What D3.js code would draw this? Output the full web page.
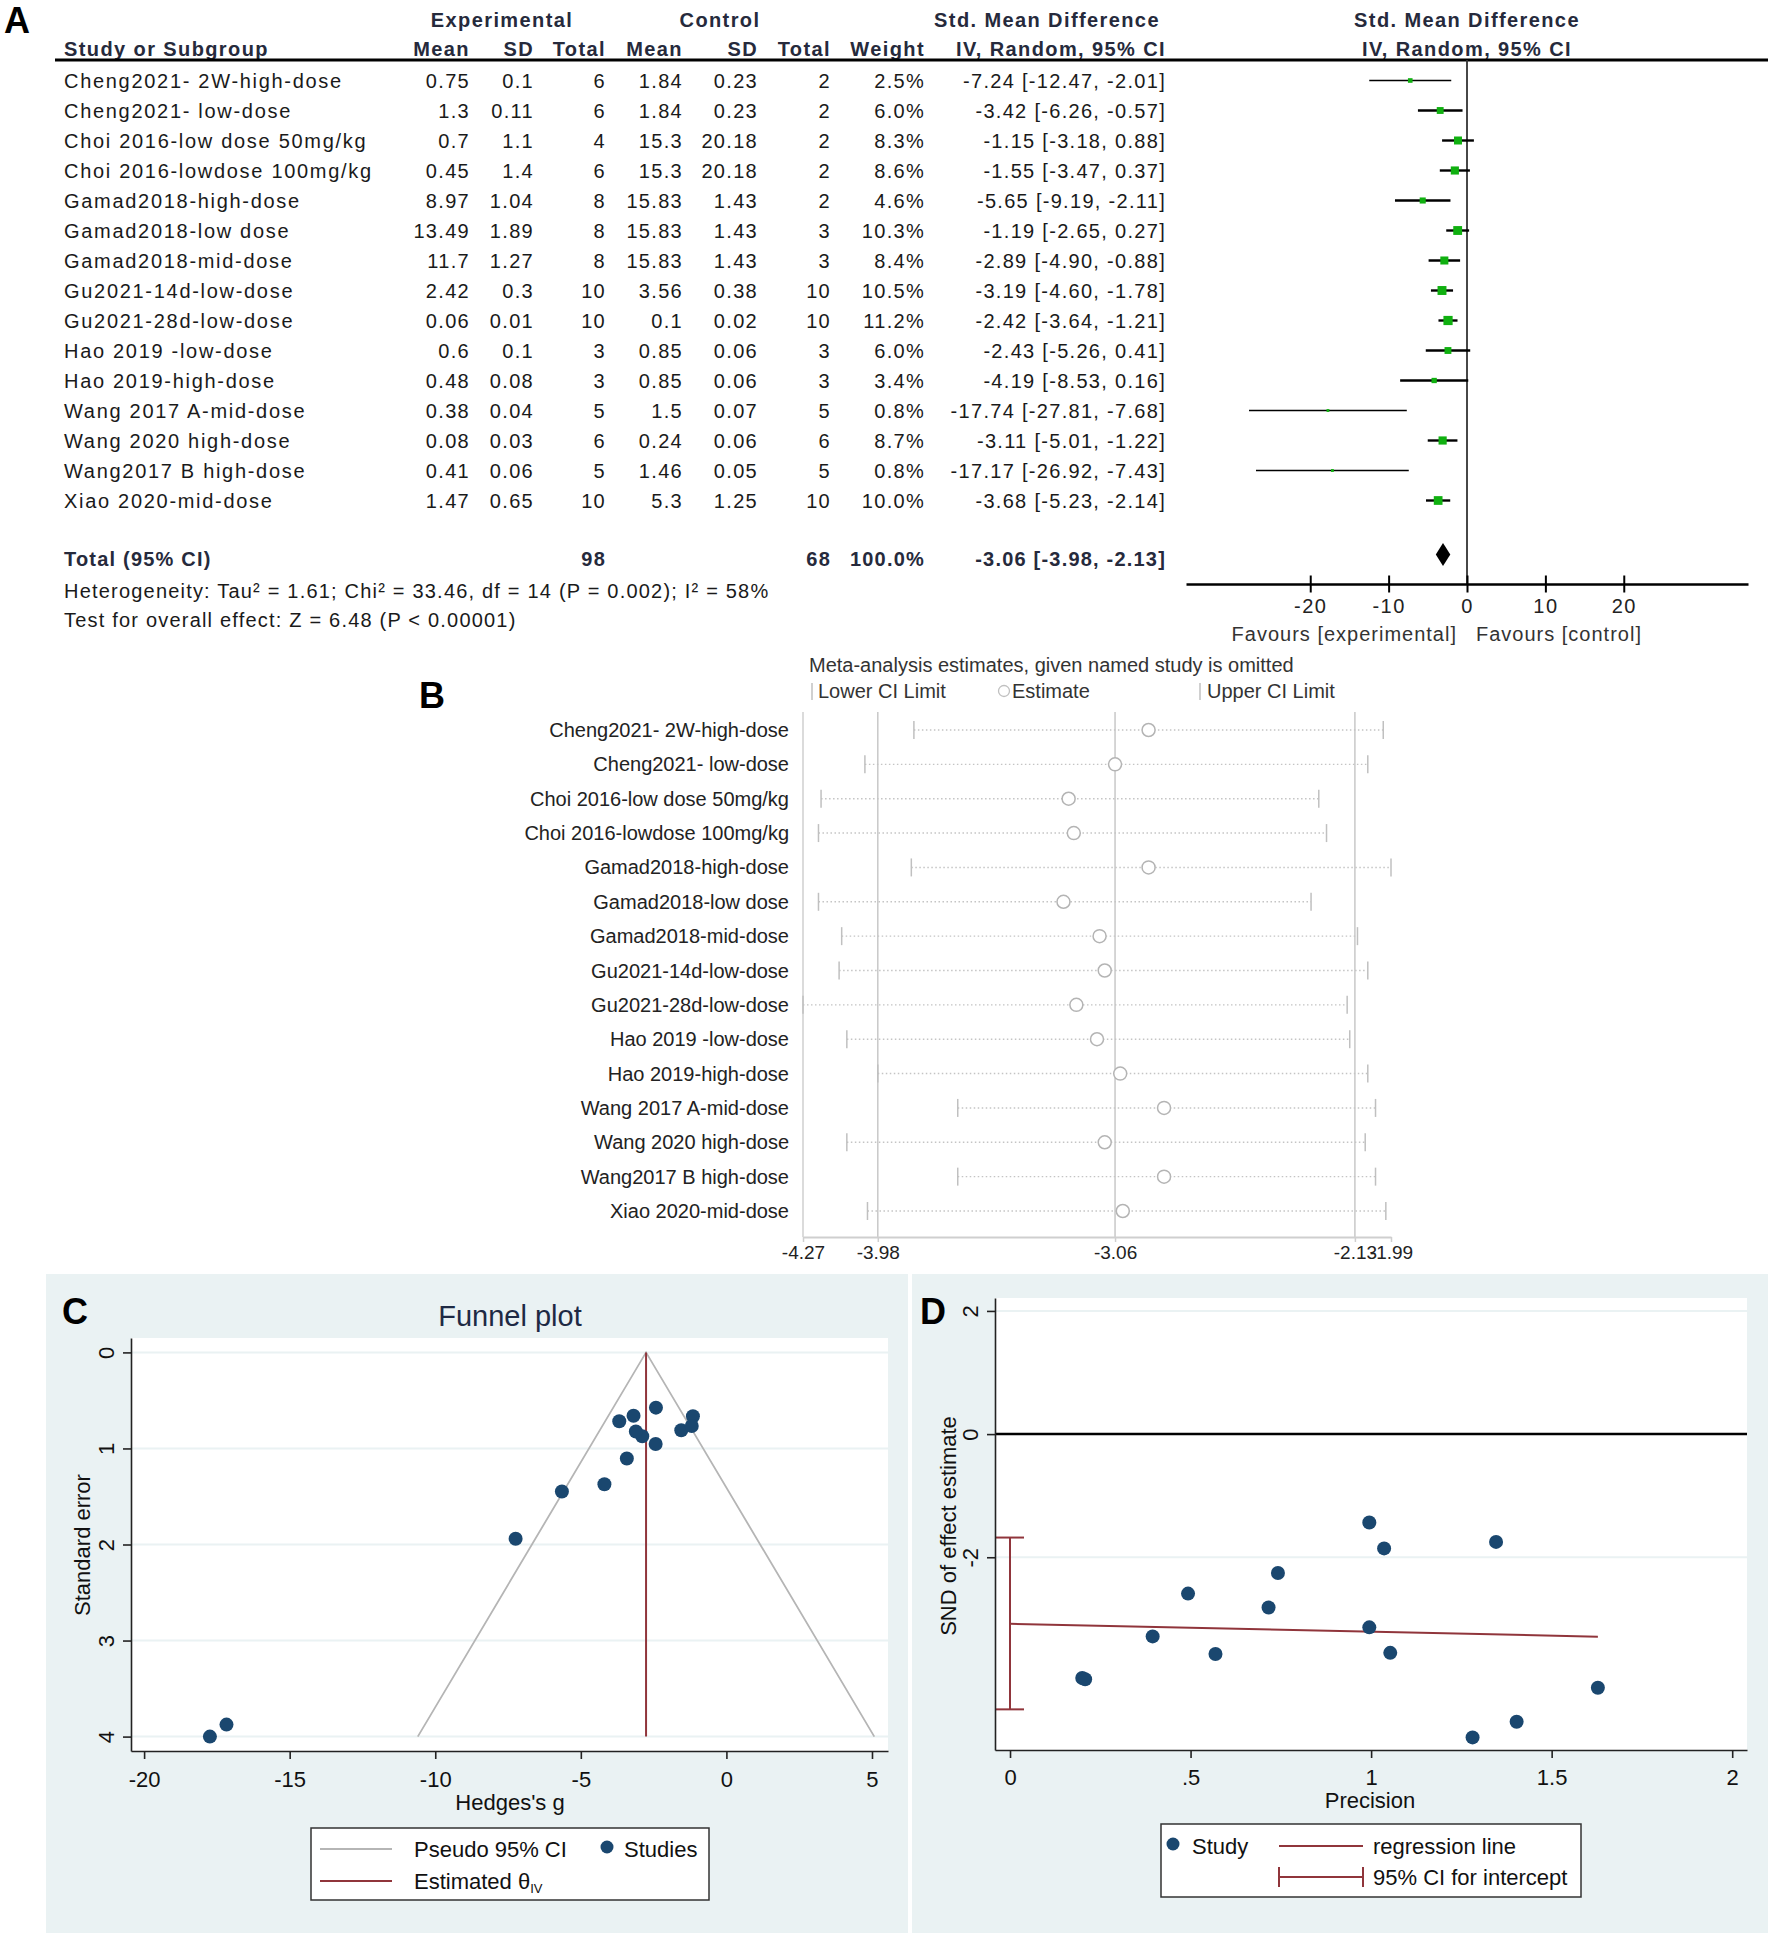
<!DOCTYPE html>
<html>
<head>
<meta charset="utf-8">
<script src="https://cdn.jsdelivr.net/npm/d3@7"></script>
<style>
body { margin: 0; background: #fff; }
text { font-family: "Liberation Sans", Arial, Helvetica, sans-serif; }
</style>
</head>
<body>
<script>
const FONT = '"Liberation Sans", Arial, Helvetica, sans-serif'

// ---- data: panel A (forest table) ----
const studies = ["Cheng2021- 2W-high-dose", "Cheng2021- low-dose", "Choi 2016-low dose 50mg/kg",
    "Choi 2016-lowdose 100mg/kg", "Gamad2018-high-dose", "Gamad2018-low dose", "Gamad2018-mid-dose",
    "Gu2021-14d-low-dose", "Gu2021-28d-low-dose", "Hao 2019 -low-dose", "Hao 2019-high-dose",
    "Wang 2017 A-mid-dose", "Wang 2020 high-dose", "Wang2017 B high-dose", "Xiao 2020-mid-dose"]
const expMean = [0.75, 1.3, 0.7, 0.45, 8.97, 13.49, 11.7, 2.42, 0.06, 0.6, 0.48, 0.38, 0.08, 0.41, 1.47]
const expSD = [0.1, 0.11, 1.1, 1.4, 1.04, 1.89, 1.27, 0.3, 0.01, 0.1, 0.08, 0.04, 0.03, 0.06, 0.65]
const expN = [6, 6, 4, 6, 8, 8, 8, 10, 10, 3, 3, 5, 6, 5, 10]
const ctlMean = [1.84, 1.84, 15.3, 15.3, 15.83, 15.83, 15.83, 3.56, 0.1, 0.85, 0.85, 1.5, 0.24, 1.46, 5.3]
const ctlSD = [0.23, 0.23, 20.18, 20.18, 1.43, 1.43, 1.43, 0.38, 0.02, 0.06, 0.06, 0.07, 0.06, 0.05, 1.25]
const ctlN = [2, 2, 2, 2, 2, 3, 3, 10, 10, 3, 3, 5, 6, 5, 10]
const weight = [2.5, 6.0, 8.3, 8.6, 4.6, 10.3, 8.4, 10.5, 11.2, 6.0, 3.4, 0.8, 8.7, 0.8, 10.0]
const smd = [-7.24, -3.42, -1.15, -1.55, -5.65, -1.19, -2.89, -3.19, -2.42, -2.43, -4.19, -17.74, -3.11, -17.17, -3.68]
const smdLo = [-12.47, -6.26, -3.18, -3.47, -9.19, -2.65, -4.90, -4.60, -3.64, -5.26, -8.53, -27.81, -5.01, -26.92, -5.23]
const smdHi = [-2.01, -0.57, 0.88, 0.37, -2.11, 0.27, -0.88, -1.78, -1.21, 0.41, 0.16, -7.68, -1.22, -7.43, -2.14]
const totalN = [98, 68]
const totalSmd = [-3.06, -3.98, -2.13]
const forestTicks = [-20, -10, 0, 10, 20]

// ---- data: panel B (leave-one-out) ----
const omitLo = [-3.84, -4.03, -4.20, -4.21, -3.85, -4.21, -4.12, -4.13, -4.27, -4.10, -3.98, -3.67, -4.10, -3.67, -4.02]
const omitEst = [-2.93, -3.06, -3.24, -3.22, -2.93, -3.26, -3.12, -3.10, -3.21, -3.13, -3.04, -2.87, -3.10, -2.87, -3.03]
const omitHi = [-2.02, -2.08, -2.27, -2.24, -1.99, -2.30, -2.12, -2.08, -2.16, -2.15, -2.08, -2.05, -2.09, -2.05, -2.01]
const omitTicks = [-4.27, -3.98, -3.06, -2.13, -1.99]
const omitRefs = [-3.98, -3.06, -2.13]

// ---- data: panel C (funnel) ----
const funnelSE = [1.94, 1.105, 0.664, 0.81, 1.448, 0.766, 0.873, 0.66, 0.575, 0.953, 1.372, 4.0, 0.824, 3.875, 0.717]
const thetaIV = -2.76
const funnelX = [-10.6, -2.76, 5.08]
const funnelY = [4, 0, 4]
const funnelXTicks = [-20, -15, -10, -5, 0, 5]
const funnelYTicks = [0, 1, 2, 3, 4]

// ---- data: panel D (Galbraith / Egger) ----
const precision = [0.200, 0.208, 0.395, 0.493, 0.569, 0.716, 0.742, 0.995, 0.995, 1.036, 1.053, 1.281, 1.346, 1.403, 1.628]
const sndEst = [-3.96, -3.98, -3.285, -2.59, -3.57, -2.816, -2.255, -1.436, -3.138, -1.856, -3.552, -4.925, -1.751, -4.672, -4.119]
const regPrec = [0, 1.628]
const regSnd = [-3.08, -3.29]
const ciIntercept = [-4.47, -1.68]
const galXTicks = [0, 0.5, 1, 1.5, 2]
const galYTicks = [2, 0, -2]

const navy = "#1a476f"
const maroon = "#90353b"
const panelBg = "#eaf2f3"
const plain = d => String(d)   // hyphen-minus, as in the original

const svg = d3.select("body").append("svg")
    .attr("width", 1772)
    .attr("height", 1943)
    .style("display", "block")

function label(g, x, y, t, size, opts = {}) {
    return g.append("text")
        .attr("x", x).attr("y", y)
        .attr("font-size", size)
        .attr("font-weight", opts.bold ? "bold" : null)
        .attr("text-anchor", opts.anchor || "start")
        .attr("letter-spacing", opts.ls || null)
        .attr("fill", opts.fill || "#1a1a1a")
        .text(t)
}

// ===================== Panel A =====================
const gA = svg.append("g")
label(gA, 17, 33, "A", 36, {bold: true, anchor: "middle", fill: "#000"})

const hdrFill = "#262a3c"
const hdr = {bold: true, ls: 1.4, fill: hdrFill}
label(gA, 502, 27, "Experimental", 20, {...hdr, anchor: "middle"})
label(gA, 720, 27, "Control", 20, {...hdr, anchor: "middle"})
label(gA, 1047, 27, "Std. Mean Difference", 20, {...hdr, anchor: "middle"})
label(gA, 1467, 27, "Std. Mean Difference", 20, {...hdr, anchor: "middle"})
label(gA, 64, 56, "Study or Subgroup", 20, hdr)
const hdr2 = [["Mean", 470], ["SD", 534], ["Total", 606], ["Mean", 683], ["SD", 758], ["Total", 831], ["Weight", 925], ["IV, Random, 95% CI", 1166]]
hdr2.forEach(([t, x]) => label(gA, x, 56, t, 20, {...hdr, anchor: "end"}))
label(gA, 1467, 56, "IV, Random, 95% CI", 20, {...hdr, anchor: "middle"})

gA.append("line").attr("x1", 55).attr("x2", 1768).attr("y1", 60).attr("y2", 60)
    .attr("stroke", "#000").attr("stroke-width", 3)

const yA = d3.scalePoint().domain(studies).range([80.5, 500.5])

gA.selectAll(".study").data(studies).join("text")
    .attr("class", "study")
    .attr("x", 64).attr("y", d => yA(d) + 7)
    .attr("font-size", 20).attr("letter-spacing", 1.7).attr("fill", "#1a1a1a")
    .text(d => d)

const fmtCI = (m, l, h) => `${m.toFixed(2)} [${l.toFixed(2)}, ${h.toFixed(2)}]`
const tableCols = [
    {v: expMean, x: 470, f: String},
    {v: expSD, x: 534, f: String},
    {v: expN, x: 606, f: String},
    {v: ctlMean, x: 683, f: String},
    {v: ctlSD, x: 758, f: String},
    {v: ctlN, x: 831, f: String},
    {v: weight, x: 925, f: d => d.toFixed(1) + "%"},
    {v: smd.map((d, i) => fmtCI(d, smdLo[i], smdHi[i])), x: 1166, f: String}
]
tableCols.forEach(col => {
    gA.append("g").selectAll("text").data(col.v).join("text")
        .attr("x", col.x).attr("y", (d, i) => yA(studies[i]) + 7)
        .attr("text-anchor", "end")
        .attr("font-size", 20).attr("letter-spacing", 1.3).attr("fill", "#1a1a1a")
        .text(col.f)
})

// total row
const totY = 566
const tot = {bold: true, ls: 1.2, fill: hdrFill}
label(gA, 64, totY, "Total (95% CI)", 20, tot)
label(gA, 606, totY, totalN[0], 20, {...tot, anchor: "end"})
label(gA, 831, totY, totalN[1], 20, {...tot, anchor: "end"})
label(gA, 925, totY, "100.0%", 20, {...tot, anchor: "end"})
label(gA, 1166, totY, fmtCI(totalSmd[0], totalSmd[1], totalSmd[2]), 20, {...tot, anchor: "end"})
label(gA, 64, 598, "Heterogeneity: Tau\u00b2 = 1.61; Chi\u00b2 = 33.46, df = 14 (P = 0.002); I\u00b2 = 58%", 20, {ls: 1.2})
label(gA, 64, 627, "Test for overall effect: Z = 6.48 (P < 0.00001)", 20, {ls: 1.2})

// forest plot
const xF = d3.scaleLinear().domain([-35.85, 35.85]).range([1186, 1748])
gA.append("line").attr("x1", xF(0)).attr("x2", xF(0)).attr("y1", 60).attr("y2", 584)
    .attr("stroke", "#333").attr("stroke-width", 1.8)

const rows = studies.map((s, i) => ({s, m: smd[i], lo: smdLo[i], hi: smdHi[i], w: weight[i]}))
gA.append("g").selectAll("line").data(rows).join("line")
    .attr("x1", d => xF(d.lo)).attr("x2", d => xF(d.hi))
    .attr("y1", d => yA(d.s)).attr("y2", d => yA(d.s))
    .attr("stroke", "#000").attr("stroke-width", d => d.w > 3 ? 2.4 : 1.6)
gA.append("g").selectAll("rect").data(rows).join("rect")
    .each(function(d) { d.side = 2.6 * Math.sqrt(d.w) + 0.5 })
    .attr("x", d => xF(d.m) - d.side / 2).attr("y", d => yA(d.s) - d.side / 2)
    .attr("width", d => d.side).attr("height", d => d.side)
    .attr("fill", "#10b010")

gA.append("polygon")
    .attr("points", [[xF(totalSmd[1]), 554.5], [xF(totalSmd[0]), 543], [xF(totalSmd[2]), 554.5], [xF(totalSmd[0]), 566]].join(" "))
    .attr("fill", "#000")

const axF = gA.append("g").attr("transform", "translate(0,584)")
    .call(d3.axisBottom(xF).tickValues(forestTicks).tickFormat(plain).tickSize(8.5).tickSizeOuter(0).tickPadding(6))
    .attr("font-size", 20).attr("font-family", FONT)
axF.select(".domain").attr("stroke", "#000").attr("stroke-width", 2.5)
axF.selectAll(".tick line").attr("y1", -8.5).attr("stroke", "#000").attr("stroke-width", 2)
axF.selectAll(".tick text").attr("fill", "#222").attr("letter-spacing", 1.5)
label(gA, 1457, 641, "Favours [experimental]", 20, {anchor: "end", ls: 1, fill: "#333"})
label(gA, 1476, 641, "Favours [control]", 20, {ls: 1, fill: "#333"})

// ===================== Panel B =====================
const gB = svg.append("g")
label(gB, 432, 708, "B", 36, {bold: true, anchor: "middle", fill: "#000"})
label(gB, 809, 672, "Meta-analysis estimates, given named study is omitted", 20, {fill: "#333"})
gB.append("line").attr("x1", 812).attr("x2", 812).attr("y1", 683).attr("y2", 700).attr("stroke", "#c0c0c0").attr("stroke-width", 1.5)
label(gB, 818, 698, "Lower CI Limit", 20, {fill: "#333"})
gB.append("circle").attr("cx", 1004).attr("cy", 691).attr("r", 5.5).attr("fill", "none").attr("stroke", "#c0c0c0").attr("stroke-width", 1.3)
label(gB, 1012, 698, "Estimate", 20, {fill: "#333"})
gB.append("line").attr("x1", 1200).attr("x2", 1200).attr("y1", 683).attr("y2", 700).attr("stroke", "#c0c0c0").attr("stroke-width", 1.5)
label(gB, 1207, 698, "Upper CI Limit", 20, {fill: "#333"})

const xB = d3.scaleLinear().domain([-4.27, -1.99]).range([803, 1391])
const yB = d3.scalePoint().domain(studies).range([730, 1211])
const bTop = 712, bBot = 1237

gB.append("line").attr("x1", xB(-4.27)).attr("x2", xB(-4.27)).attr("y1", bTop).attr("y2", bBot)
    .attr("stroke", "#cfcfcf").attr("stroke-width", 1.5)
gB.append("g").selectAll("line").data(omitRefs).join("line")
    .attr("x1", d => xB(d)).attr("x2", d => xB(d)).attr("y1", bTop).attr("y2", bBot)
    .attr("stroke", "#c8c8c8").attr("stroke-width", 1.5)

const omit = studies.map((s, i) => ({s, lo: omitLo[i], est: omitEst[i], hi: omitHi[i]}))
gB.append("g").selectAll("line").data(omit).join("line")
    .attr("x1", d => xB(d.lo)).attr("x2", d => xB(d.hi))
    .attr("y1", d => yB(d.s)).attr("y2", d => yB(d.s))
    .attr("stroke", "#c4c4c4").attr("stroke-width", 1.4).attr("stroke-dasharray", "1.5,2.5")
const capsB = gB.append("g")
omit.forEach(d => {
    [d.lo, d.hi].forEach(v => {
        capsB.append("line").attr("x1", xB(v)).attr("x2", xB(v))
            .attr("y1", yB(d.s) - 9).attr("y2", yB(d.s) + 9)
            .attr("stroke", "#c0c0c0").attr("stroke-width", 1.5)
    })
})
gB.append("g").selectAll("circle").data(omit).join("circle")
    .attr("cx", d => xB(d.est)).attr("cy", d => yB(d.s)).attr("r", 6.5)
    .attr("fill", "#fff").attr("stroke", "#b4b4b4").attr("stroke-width", 1.5)
gB.append("g").selectAll("text").data(studies).join("text")
    .attr("x", 789).attr("y", d => yB(d) + 7).attr("text-anchor", "end")
    .attr("font-size", 20).attr("fill", "#222").text(d => d)

const axB = gB.append("g").attr("transform", `translate(0,${bBot})`)
    .call(d3.axisBottom(xB).tickValues(omitTicks).tickFormat(d => d.toFixed(2)).tickSize(5).tickSizeOuter(0).tickPadding(4))
    .attr("font-size", 19).attr("font-family", FONT)
axB.select(".domain").attr("stroke", "#cfcfcf").attr("stroke-width", 2)
axB.selectAll(".tick line").attr("stroke", "#cfcfcf").attr("stroke-width", 1.5)
axB.selectAll(".tick text").attr("fill", "#222")

// ===================== Panel C =====================
const gC = svg.append("g")
gC.append("rect").attr("x", 46).attr("y", 1274).attr("width", 862).attr("height", 659).attr("fill", panelBg)
const xC = d3.scaleLinear().domain([-20.45, 5.55]).range([131, 888])
const yC = d3.scaleLinear().domain([-0.15, 4.15]).range([1338, 1751])
gC.append("rect").attr("x", 131).attr("y", 1338).attr("width", 757).attr("height", 413).attr("fill", "#fff")
gC.append("g").selectAll("line").data(funnelYTicks).join("line")
    .attr("x1", 131).attr("x2", 888).attr("y1", d => yC(d)).attr("y2", d => yC(d))
    .attr("stroke", panelBg).attr("stroke-width", 2)

label(gC, 75, 1324, "C", 36, {bold: true, anchor: "middle", fill: "#000"})
label(gC, 510, 1326, "Funnel plot", 29, {anchor: "middle", fill: "#1e2a44"})

const funnelPts = funnelX.map((x, i) => [xC(x), yC(funnelY[i])])
gC.append("path").attr("d", d3.line()(funnelPts))
    .attr("fill", "none").attr("stroke", "#b5b5b5").attr("stroke-width", 1.8)
gC.append("line").attr("x1", xC(thetaIV)).attr("x2", xC(thetaIV)).attr("y1", yC(0)).attr("y2", yC(4))
    .attr("stroke", maroon).attr("stroke-width", 2)
gC.append("g").selectAll("circle").data(smd).join("circle")
    .attr("cx", d => xC(d)).attr("cy", (d, i) => yC(funnelSE[i])).attr("r", 7)
    .attr("fill", navy)

const axCx = gC.append("g").attr("transform", "translate(0,1751)")
    .call(d3.axisBottom(xC).tickValues(funnelXTicks).tickFormat(plain).tickSize(8).tickPadding(12).tickSizeOuter(0))
    .attr("font-size", 22).attr("font-family", FONT)
const axCy = gC.append("g").attr("transform", "translate(131,0)")
    .call(d3.axisLeft(yC).tickValues(funnelYTicks).tickFormat(plain).tickSize(8).tickSizeOuter(0))
    .attr("font-size", 22).attr("font-family", FONT)
axCy.selectAll(".tick text").attr("x", 0).attr("dy", 0).attr("text-anchor", "middle")
    .attr("transform", "translate(-17,0) rotate(-90)")
;[axCx, axCy].forEach(a => {
    a.select(".domain").attr("stroke", "#222").attr("stroke-width", 1.6)
    a.selectAll(".tick line").attr("stroke", "#222").attr("stroke-width", 1.6)
    a.selectAll(".tick text").attr("fill", "#111")
})
label(gC, 510, 1810, "Hedges's g", 22, {anchor: "middle", fill: "#111"})
gC.append("text").attr("transform", "translate(90,1545) rotate(-90)")
    .attr("text-anchor", "middle").attr("font-size", 22).attr("fill", "#111").text("Standard error")

// legend C
gC.append("rect").attr("x", 311).attr("y", 1828).attr("width", 398).attr("height", 72)
    .attr("fill", "#fff").attr("stroke", "#333").attr("stroke-width", 1.5)
gC.append("line").attr("x1", 320).attr("x2", 392).attr("y1", 1849).attr("y2", 1849).attr("stroke", "#b5b5b5").attr("stroke-width", 2)
label(gC, 414, 1857, "Pseudo 95% CI", 22, {fill: "#111"})
gC.append("circle").attr("cx", 607).attr("cy", 1847).attr("r", 6.5).attr("fill", navy)
label(gC, 624, 1857, "Studies", 22, {fill: "#111"})
gC.append("line").attr("x1", 320).attr("x2", 392).attr("y1", 1881).attr("y2", 1881).attr("stroke", maroon).attr("stroke-width", 2)
const est = label(gC, 414, 1889, "Estimated \u03b8", 22, {fill: "#111"})
est.append("tspan").attr("font-size", 13).attr("dy", 4).text("IV")

// ===================== Panel D =====================
const gD = svg.append("g")
gD.append("rect").attr("x", 912).attr("y", 1274).attr("width", 856).attr("height", 659).attr("fill", panelBg)
const xD = d3.scaleLinear().domain([-0.0416, 2.041]).range([995, 1747])
const yD = d3.scaleLinear().domain([-5.13, 2.21]).range([1750, 1298])
gD.append("rect").attr("x", 995).attr("y", 1298).attr("width", 752).attr("height", 452).attr("fill", "#fff")
gD.append("g").selectAll("line").data(galYTicks.filter(d => d !== 0)).join("line")
    .attr("x1", 995).attr("x2", 1747).attr("y1", d => yD(d)).attr("y2", d => yD(d))
    .attr("stroke", panelBg).attr("stroke-width", 2)
gD.append("line").attr("x1", 995).attr("x2", 1747).attr("y1", yD(0)).attr("y2", yD(0))
    .attr("stroke", "#000").attr("stroke-width", 2.5)

label(gD, 933, 1324, "D", 36, {bold: true, anchor: "middle", fill: "#000"})

gD.append("line").attr("x1", xD(regPrec[0])).attr("x2", xD(regPrec[1]))
    .attr("y1", yD(regSnd[0])).attr("y2", yD(regSnd[1]))
    .attr("stroke", maroon).attr("stroke-width", 2)
gD.append("line").attr("x1", xD(0)).attr("x2", xD(0))
    .attr("y1", yD(ciIntercept[0])).attr("y2", yD(ciIntercept[1]))
    .attr("stroke", maroon).attr("stroke-width", 2)
gD.append("g").selectAll("line").data(ciIntercept).join("line")
    .attr("x1", xD(0) - 14).attr("x2", xD(0) + 14).attr("y1", d => yD(d)).attr("y2", d => yD(d))
    .attr("stroke", maroon).attr("stroke-width", 2)
gD.append("g").selectAll("circle").data(precision).join("circle")
    .attr("cx", d => xD(d)).attr("cy", (d, i) => yD(sndEst[i])).attr("r", 7)
    .attr("fill", navy)

const axDx = gD.append("g").attr("transform", "translate(0,1750)")
    .call(d3.axisBottom(xD).tickValues(galXTicks).tickSize(8).tickPadding(11).tickSizeOuter(0)
        .tickFormat(d => d === 0 ? "0" : String(d).replace(/^0/, "")))
    .attr("font-size", 22).attr("font-family", FONT)
const axDy = gD.append("g").attr("transform", "translate(995,0)")
    .call(d3.axisLeft(yD).tickValues(galYTicks).tickFormat(plain).tickSize(8).tickSizeOuter(0))
    .attr("font-size", 22).attr("font-family", FONT)
axDy.selectAll(".tick text").attr("x", 0).attr("dy", 0).attr("text-anchor", "middle")
    .attr("transform", "translate(-17,0) rotate(-90)")
;[axDx, axDy].forEach(a => {
    a.select(".domain").attr("stroke", "#222").attr("stroke-width", 1.6)
    a.selectAll(".tick line").attr("stroke", "#222").attr("stroke-width", 1.6)
    a.selectAll(".tick text").attr("fill", "#111")
})
label(gD, 1370, 1808, "Precision", 22, {anchor: "middle", fill: "#111"})
gD.append("text").attr("transform", "translate(956,1526) rotate(-90)")
    .attr("text-anchor", "middle").attr("font-size", 22).attr("fill", "#111").text("SND of effect estimate")

// legend D
gD.append("rect").attr("x", 1161).attr("y", 1824).attr("width", 420).attr("height", 73)
    .attr("fill", "#fff").attr("stroke", "#333").attr("stroke-width", 1.5)
gD.append("circle").attr("cx", 1173).attr("cy", 1844).attr("r", 6.5).attr("fill", navy)
label(gD, 1192, 1854, "Study", 22, {fill: "#111"})
gD.append("line").attr("x1", 1279).attr("x2", 1363).attr("y1", 1846).attr("y2", 1846).attr("stroke", maroon).attr("stroke-width", 2)
label(gD, 1373, 1854, "regression line", 22, {fill: "#111"})
gD.append("line").attr("x1", 1279).attr("x2", 1363).attr("y1", 1877).attr("y2", 1877).attr("stroke", maroon).attr("stroke-width", 2)
gD.append("g").selectAll("line").data([1279, 1363]).join("line")
    .attr("x1", d => d).attr("x2", d => d).attr("y1", 1867).attr("y2", 1887)
    .attr("stroke", maroon).attr("stroke-width", 2)
label(gD, 1373, 1885, "95% CI for intercept", 22, {fill: "#111"})
</script>
</body>
</html>
